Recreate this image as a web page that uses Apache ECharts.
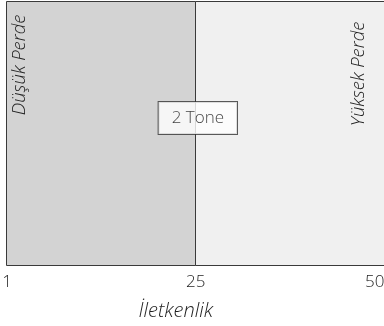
<!DOCTYPE html>
<html>
<head>
<meta charset="utf-8">
<script src="https://cdn.jsdelivr.net/npm/echarts@6/dist/echarts.min.js"></script>
<style>
  html, body { margin: 0; padding: 0; background: #fff; }
  #chart { width: 384px; height: 326px; }
</style>
</head>
<body>
<div id="chart"></div>
<script>
// bölgeler (x ekseni: iletkenlik 1..50)
const regionNames = ['Düşük Perde', 'Yüksek Perde']
const regionStarts = [1, 25]
const regionEnds = [25, 50]
const regionColors = ['#d3d3d3', '#f0f0f0']
const tickValues = [1, 25, 50]
const axisTitle = 'İletkenlik'
const noteText = '2 Tone'
const notePoint = [25, 0.56]

const font = '"Open Sans", "DejaVu Sans", sans-serif'
const myChart = echarts.init(document.getElementById('chart'))

const regionData = regionStarts.map((s, i) => [s, regionEnds[i], i])

const option = {
  animation: false,
  grid: {
    left: 7,
    top: 2,
    width: 385.5,
    height: 263.5,
    outerBoundsMode: 'none',
    containLabel: false
  },
  xAxis: {
    type: 'value',
    min: 1,
    max: 50,
    name: axisTitle,
    nameLocation: 'middle',
    nameGap: 36,
    nameTextStyle: {
      fontFamily: font,
      fontStyle: 'italic',
      fontWeight: 300,
      fontSize: 20,
      color: '#1e1e1e',
      padding: [0, 48, 0, 0]
    },
    splitLine: { show: false },
    axisLine: { show: false },
    axisTick: { show: false },
    axisLabel: {
      customValues: tickValues,
      margin: 8,
      fontFamily: font,
      fontWeight: 300,
      fontSize: 17,
      color: '#1e1e1e',
      alignMaxLabel: 'right',
      formatter: (v) => v === 50 ? '{e|' + v + '}' : String(v),
      rich: {
        e: { padding: [0, 8, 0, 0], fontFamily: font, fontWeight: 300, fontSize: 17, color: '#1e1e1e' }
      }
    }
  },
  yAxis: {
    type: 'value',
    min: 0,
    max: 1,
    show: false
  },
  series: [
    {
      type: 'custom',
      data: regionData,
      encode: { x: [0, 1] },
      renderItem (params, api) {
        const i = api.value(2)
        const p0 = api.coord([api.value(0), 1])
        const p1 = api.coord([api.value(1), 0])
        const x0 = Math.round(p0[0]) - 0.5
        const x1 = Math.round(p1[0]) - 0.5
        const y0 = Math.round(p0[1]) - 0.5
        const y1 = Math.round(p1[1]) - 0.5
        const tx = i === 0 ? x0 + 13 : x1 - 34
        const ty = i === 0 ? y0 + 13 : y0 + 20
        return {
          type: 'group',
          children: [
            {
              type: 'rect',
              shape: { x: x0, y: y0, width: x1 - x0, height: y1 - y0 },
              style: { fill: regionColors[i], stroke: '#3a3a3a', lineWidth: 1 }
            },
            {
              type: 'text',
              x: tx,
              y: ty,
              rotation: Math.PI / 2,
              style: {
                text: regionNames[i],
                fill: '#1e1e1e',
                font: 'italic 300 18.5px ' + font,
                align: 'right',
                verticalAlign: 'middle'
              }
            }
          ]
        }
      }
    },
    {
      type: 'scatter',
      data: [notePoint],
      symbolSize: 1,
      itemStyle: { color: 'transparent' },
      z: 5,
      label: {
        show: true,
        position: 'inside',
        offset: [2, 0],
        formatter: noteText,
        fontFamily: font,
        fontWeight: 300,
        fontSize: 17,
        color: '#111',
        backgroundColor: '#fff',
        borderColor: '#333',
        borderWidth: 1,
        padding: [8, 13, 7, 13]
      }
    }
  ]
}
myChart.setOption(option)
</script>
</body>
</html>
